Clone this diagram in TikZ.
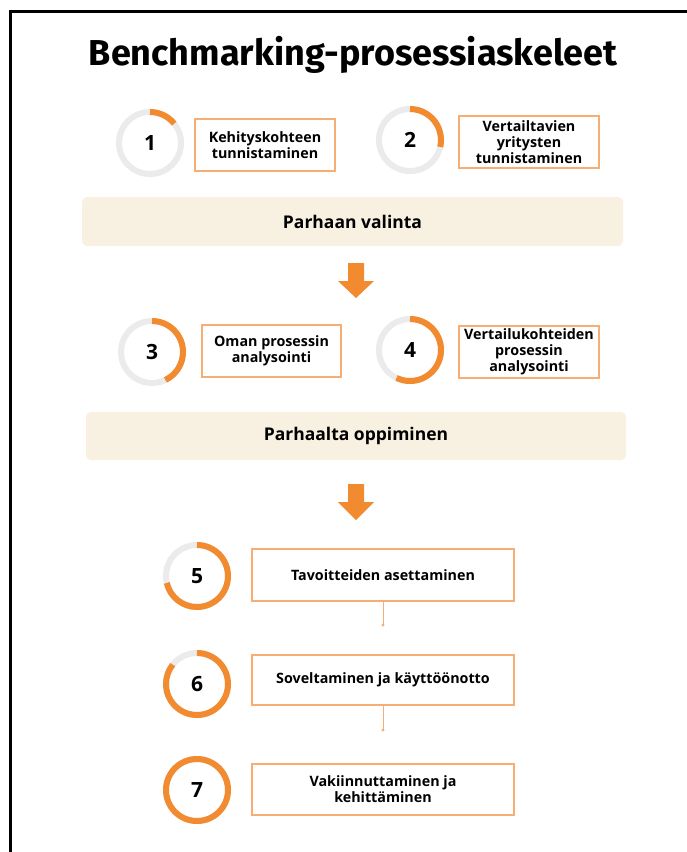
\documentclass[tikz,border=0pt]{standalone}
\usepackage{fontspec}
\setmainfont{Open Sans}
\newfontfamily\titlefont{Fira Sans}
\definecolor{orng}{HTML}{F28A30}
\definecolor{boxor}{HTML}{F7AE74}
\definecolor{ringgray}{HTML}{EBEBEB}
\definecolor{beige}{HTML}{F8F0E1}
\tikzset{
  ringnode/.style={circle, minimum size=62pt, inner sep=0pt, outer sep=0pt, draw=ringgray, line width=6pt, font=\fontsize{21}{21}\selectfont\bfseries},
  progress/.style={orng, line width=6pt},
  stepbox/.style={draw=boxor, line width=1.3pt, fill=white, align=center, inner sep=2pt, font=\fontsize{14.3}{16}\selectfont\bfseries},
  banner/.style={fill=beige, rounded corners=5pt, font=\fontsize{17.5}{20}\selectfont\bfseries},
  linkline/.style={boxor, line width=1pt},
  bigarrow/.style={fill=orng}
}
\newcommand\progressarc[2]{\draw[progress] (#1.north) arc (-90:{-90+#2}:31);}
\begin{document}
\begin{tikzpicture}[x=1pt,y=-1pt]
\useasboundingbox (0,0) rectangle (687,852);
\fill[white] (0,0) rectangle (687,852);
\draw[line width=3pt] (687,11) -- (10,11) -- (10,852);

\node[font=\titlefont\fontsize{36}{40}\selectfont\bfseries] (title) at (353,55) {Benchmarking-prosessiaskeleet};

% row 1
\node[ringnode] (c1) at (150,143) {1};
\progressarc{c1}{51.4}
\node[stepbox, minimum width=140pt, minimum height=52pt] (b1) at (265,145) {Kehityskohteen\\tunnistaminen};
\node[ringnode] (c2) at (410,140) {2};
\progressarc{c2}{102.9}
\node[stepbox, minimum width=140pt, minimum height=52pt] (b2) at (529,142) {Vertailtavien\\yritysten\\tunnistaminen};

\node[banner, minimum width=541pt, minimum height=49pt] (p1) at (352.5,221.5) {Parhaan valinta};
\fill[bigarrow] (348,263) -- (364,263) -- (364,281) -- (374,281) -- (356,298) -- (338,281) -- (348,281) -- cycle;

% row 2
\node[ringnode] (c3) at (152,352) {3};
\progressarc{c3}{154.3}
\node[stepbox, minimum width=139pt, minimum height=52pt] (b3) at (271.5,351) {Oman prosessin\\analysointi};
\node[ringnode] (c4) at (410,350) {4};
\progressarc{c4}{205.7}
\node[stepbox, minimum width=140pt, minimum height=52pt] (b4) at (529,352) {Vertailukohteiden\\prosessin\\analysointi};

\node[banner, minimum width=540pt, minimum height=48pt] (p2) at (356,436) {Parhaalta oppiminen};
\fill[bigarrow] (348,484) -- (364,484) -- (364,502) -- (374,502) -- (356,520) -- (338,502) -- (348,502) -- cycle;

% column
\node[ringnode] (c5) at (197,576) {5};
\progressarc{c5}{257.1}
\node[stepbox, minimum width=262pt, minimum height=52pt] (b5) at (383,575) {Tavoitteiden asettaminen};
\node[ringnode] (c6) at (197,684) {6};
\progressarc{c6}{308.6}
\node[stepbox, minimum width=262pt, minimum height=50pt] (b6) at (383,680) {Soveltaminen ja käyttöönotto};
\node[ringnode] (c7) at (197,790) {7};
\progressarc{c7}{360}
\node[stepbox, minimum width=262pt, minimum height=51pt] (b7) at (383,789.5) {Vakiinnuttaminen ja\\kehittäminen};

\coordinate (d5) at (383,625);
\coordinate (d6) at (383,730);
\draw[linkline] (b5.south) -- (d5);
\fill[boxor] (d5) circle (1.6pt);
\draw[linkline] (b6.south) -- (d6);
\fill[boxor] (d6) circle (1.6pt);
\end{tikzpicture}
\end{document}
